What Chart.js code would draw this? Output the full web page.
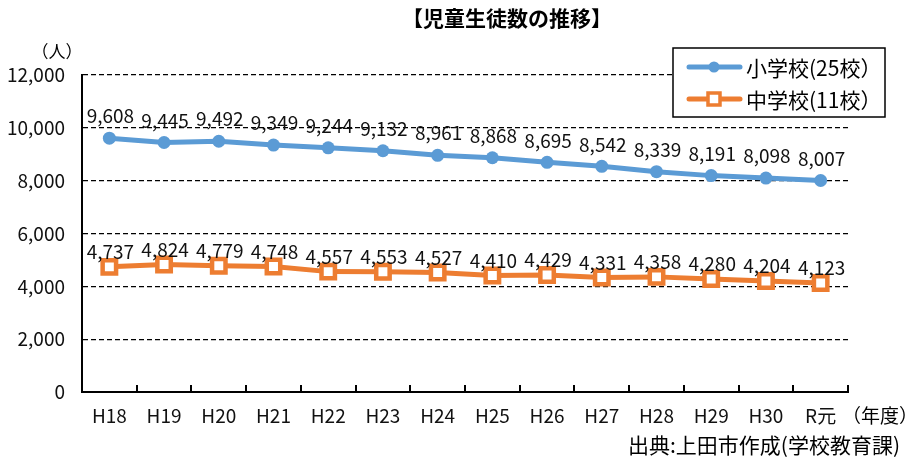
<!DOCTYPE html>
<html>
<head>
<meta charset="utf-8">
<script src="https://cdn.jsdelivr.net/npm/chart.js@4"></script>
<style>
  html, body { margin: 0; padding: 0; background: #fff; }
  #wrap { width: 910px; height: 457px; position: relative; }
</style>
</head>
<body>
<div id="wrap"><canvas id="myChart"></canvas></div>
<script>
const years = ["H18", "H19", "H20", "H21", "H22", "H23", "H24", "H25", "H26", "H27", "H28", "H29", "H30", "R元"];
const elementary = [9608, 9445, 9492, 9349, 9244, 9132, 8961, 8868, 8695, 8542, 8339, 8191, 8098, 8007];
const juniorHigh = [4737, 4824, 4779, 4748, 4557, 4553, 4527, 4410, 4429, 4331, 4358, 4280, 4204, 4123];
const seriesNames = ["小学校(25校）", "中学校(11校）"];
const yTicks = [0, 2000, 4000, 6000, 8000, 10000, 12000];

const FONT = '"Noto Sans CJK JP", sans-serif';
const BLUE = "#5b9bd5";
const ORANGE = "#ed7d31";

const fmt = (v) => v.toLocaleString("en-US");

// value labels, axis notes, legend box, inner tick marks
const extras = {
  id: "extras",
  afterDatasetsDraw(chart) {
    const ctx = chart.ctx;
    const { bottom } = chart.chartArea;
    const x = chart.scales.x;

    ctx.save();
    // inner tick marks on x axis
    ctx.strokeStyle = "#000";
    ctx.lineWidth = 2;
    for (let i = 1; i <= years.length; i++) {
      const px = Math.round(x.getPixelForValue(i - 0.5));
      ctx.beginPath();
      ctx.moveTo(px, bottom);
      ctx.lineTo(px, bottom - 7);
      ctx.stroke();
    }

    // value labels
    ctx.font = "19px " + FONT;
    ctx.fillStyle = "#111";
    ctx.textAlign = "center";
    ctx.textBaseline = "middle";
    const offsets = [22, 15];
    chart.data.datasets.forEach((ds, di) => {
      const meta = chart.getDatasetMeta(di);
      meta.data.forEach((pt, i) => {
        ctx.fillText(fmt(ds.data[i]), pt.x + 1, pt.y - offsets[di]);
      });
    });

    // title
    ctx.font = "bold 21px " + FONT;
    ctx.fillStyle = "#000";
    ctx.fillText("【児童生徒数の推移】", 507, 18);

    // axis notes
    ctx.font = "17px " + FONT;
    ctx.fillText("（人）", 57, 52);
    ctx.font = "19px " + FONT;
    ctx.fillText("（年度）", 880, 416);
    ctx.textAlign = "right";
    ctx.font = "21px " + FONT;
    ctx.fillText("出典:上田市作成(学校教育課)", 900, 445);

    // legend
    const bx = 673, by = 48, bw = 212, bh = 69;
    ctx.fillStyle = "#fff";
    ctx.fillRect(bx, by, bw, bh);
    ctx.strokeStyle = "#000";
    ctx.lineWidth = 1.5;
    ctx.strokeRect(bx, by, bw, bh);
    chart.data.datasets.forEach((ds, di) => {
      const ly = by + 19 + di * 32;
      ctx.strokeStyle = ds.borderColor;
      ctx.lineWidth = 5;
      ctx.lineCap = "round";
      ctx.beginPath();
      ctx.moveTo(689, ly);
      ctx.lineTo(740, ly);
      ctx.stroke();
      ctx.lineCap = "butt";
      if (di === 0) {
        ctx.fillStyle = ds.borderColor;
        ctx.beginPath();
        ctx.arc(714, ly, 5.5, 0, Math.PI * 2);
        ctx.fill();
      } else {
        ctx.fillStyle = "#fff";
        ctx.lineWidth = 3.5;
        ctx.fillRect(708, ly - 6, 12, 12);
        ctx.strokeRect(708, ly - 6, 12, 12);
      }
      ctx.fillStyle = "#000";
      ctx.textAlign = "left";
      ctx.font = "21px " + FONT;
      ctx.fillText(ds.label, 746, ly + 1);
    });
    ctx.restore();
  },
};

new Chart(document.getElementById("myChart"), {
  type: "line",
  data: {
    labels: years,
    datasets: [
      {
        label: seriesNames[0],
        data: elementary,
        borderColor: BLUE,
        backgroundColor: BLUE,
        borderWidth: 5,
        pointStyle: "circle",
        pointRadius: 6.5,
        pointBorderWidth: 0,
        pointBackgroundColor: BLUE,
        tension: 0,
      },
      {
        label: seriesNames[1],
        data: juniorHigh,
        borderColor: ORANGE,
        backgroundColor: "#fff",
        borderWidth: 5,
        pointStyle: "rect",
        pointRadius: 9.5,
        pointBorderWidth: 4.5,
        pointBorderColor: ORANGE,
        pointBackgroundColor: "#fff",
        tension: 0,
      },
    ],
  },
  options: {
    responsive: true,
    maintainAspectRatio: false,
    animation: false,
    layout: { padding: { left: 0, right: 62, top: 75, bottom: 0 } },
    plugins: {
      legend: { display: false },
      tooltip: { enabled: false },
    },
    scales: {
      x: {
        offset: true,
        grid: { display: true, drawOnChartArea: false, drawTicks: false },
        border: { display: true, color: "#000", width: 2 },
        ticks: {
          color: "#111",
          font: { family: FONT, size: 19 },
          padding: 12,
          maxRotation: 0,
        },
        afterFit(scale) {
          scale.height = 65;
        },
      },
      y: {
        min: 0,
        max: 12000,
        afterBuildTicks(scale) {
          scale.ticks = yTicks.map((v) => ({ value: v }));
        },
        grid: { color: "#000", lineWidth: 1.3, drawTicks: false },
        border: { display: true, color: "#000", width: 2, dash: [5, 3] },
        ticks: {
          color: "#111",
          font: { family: FONT, size: 19 },
          padding: 17,
          callback: (v) => fmt(v),
        },
        afterFit(scale) {
          scale.width = 82;
        },
      },
    },
  },
  plugins: [extras],
});
</script>
</body>
</html>
